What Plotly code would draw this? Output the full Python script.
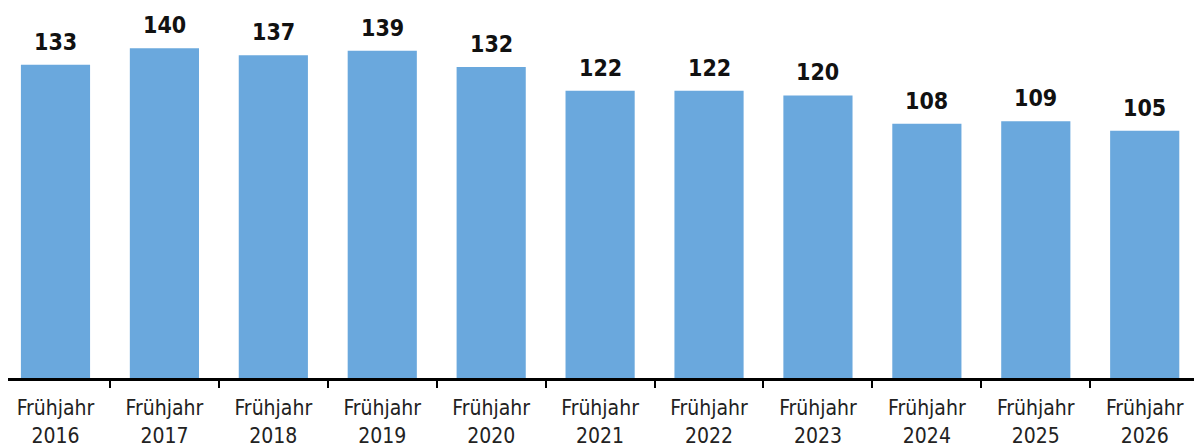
import plotly.graph_objects as go

years = ["2016", "2017", "2018", "2019", "2020", "2021", "2022", "2023", "2024", "2025", "2026"]
categories = ["Frühjahr<br>" + y for y in years]
values = [133, 140, 137, 139, 132, 122, 122, 120, 108, 109, 105]

FONT = "DejaVu Sans Condensed, Liberation Sans Narrow, sans-serif"

fig = go.Figure()
fig.add_trace(go.Bar(
    x=categories, y=values,
    marker=dict(color="#6aa8dd", line=dict(width=0)),
    width=0.635,
    hoverinfo="skip",
))

for c, v in zip(categories, values):
    fig.add_annotation(x=c, y=v, text="<b>" + str(v) + "</b>", showarrow=False,
                       yanchor="bottom", yshift=8,
                       font=dict(family=FONT, size=23, color="#111111"))

fig.update_layout(
    width=1202, height=445,
    margin=dict(l=0, r=13, t=0, b=75, autoexpand=False),
    paper_bgcolor="white", plot_bgcolor="white",
    showlegend=False,
    bargap=0.365,
    xaxis=dict(
        type="category",
        range=[-0.436, 10.48],
        automargin=False,
        showline=True, linecolor="black", linewidth=3,
        ticks="outside", tickson="boundaries", ticklen=7, tickwidth=2, tickcolor="black",
        ticklabelstandoff=9,
        tickfont=dict(family=FONT, size=21, color="#222222"),
        showgrid=False, zeroline=False,
    ),
    yaxis=dict(
        range=[0, 157.1], visible=False, showgrid=False, zeroline=False,
        automargin=False,
    ),
)

fig.write_html("out.html")
